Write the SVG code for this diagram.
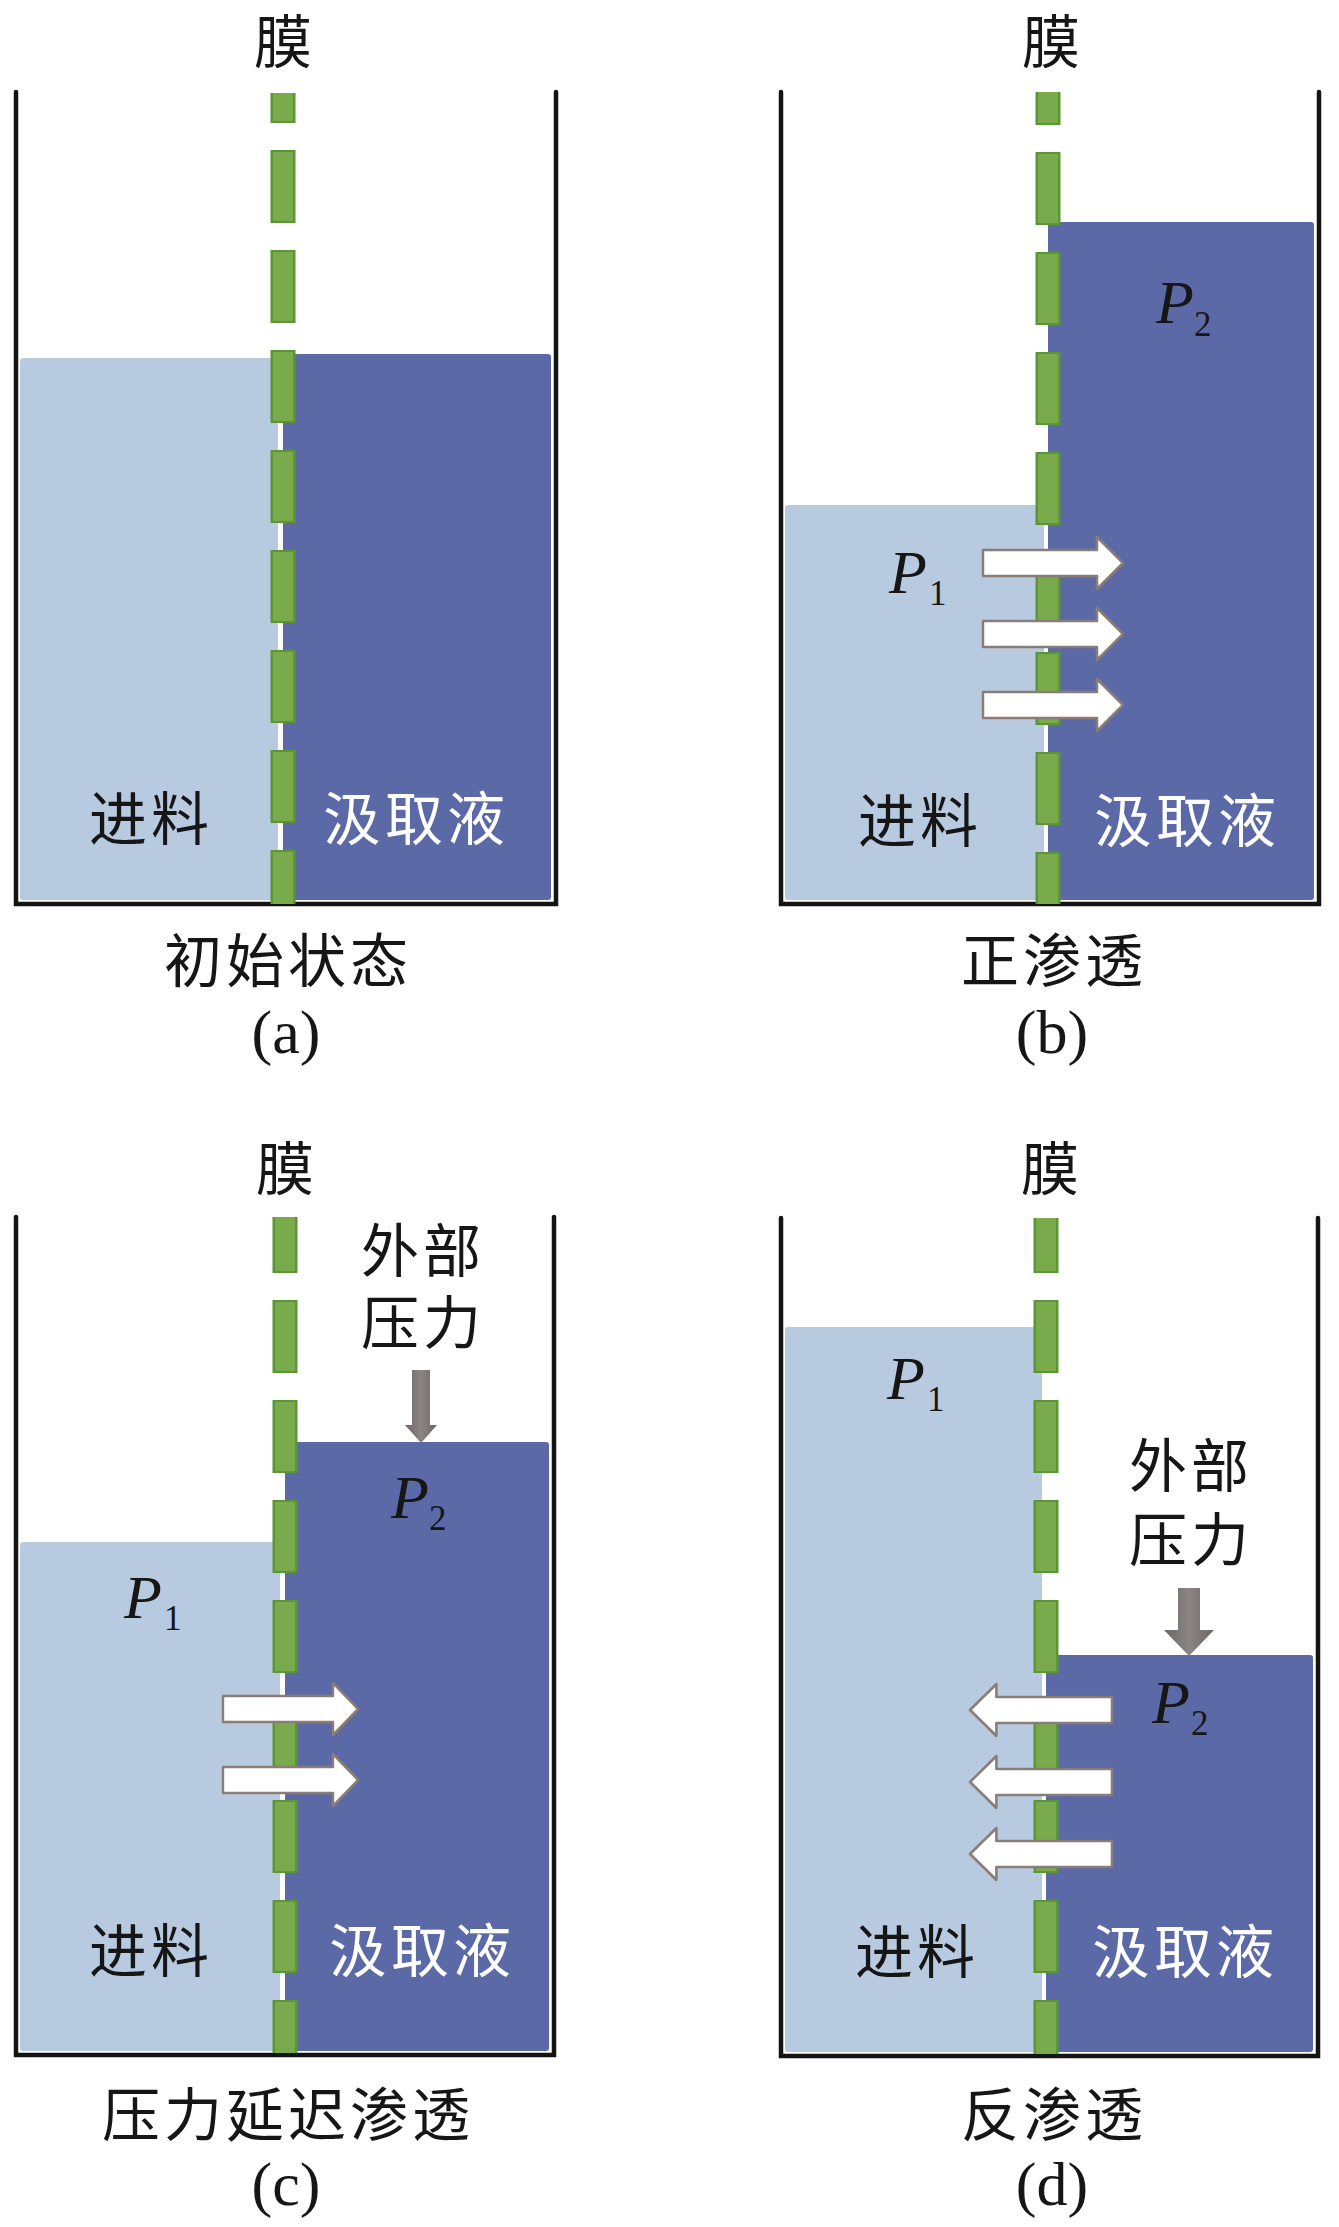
<svg xmlns="http://www.w3.org/2000/svg" xmlns:xlink="http://www.w3.org/1999/xlink" width="1339" height="2227" viewBox="0 0 1339 2227">
<style>
.wall{fill:none;stroke:#141414;stroke-width:4.5;stroke-linecap:round;stroke-linejoin:miter}
.feed{fill:#b8cadf}
.draw{fill:#5b6aa6}
.memo{stroke:#5a9636;stroke-width:25;fill:none;stroke-dasharray:73 27}
.memi{stroke:#79aa4b;stroke-width:20;fill:none;stroke-dasharray:69 31}
.cjk{font-family:"Noto Sans CJK SC",sans-serif;font-size:58px;fill:#161616;text-anchor:middle}
.sp{letter-spacing:4px}
.wt{fill:#ffffff}
.lbl{font-family:"Liberation Serif","Times New Roman",serif;font-size:62px;fill:#161616;text-anchor:middle}
.P{font-family:"Liberation Serif","Times New Roman",serif;font-size:62px;font-style:italic;fill:#161616}
.sub{font-family:"Liberation Serif","Times New Roman",serif;font-size:35px;fill:#161616}
.flow{fill:#ffffff;stroke:#8a7c76;stroke-width:2.5;stroke-linejoin:round}
.push{fill:url(#gray)}
</style>
<defs>
<linearGradient id="gray" x1="0" y1="0" x2="1" y2="0">
<stop offset="0" stop-color="#6c6665"/>
<stop offset="0.5" stop-color="#8b8584"/>
<stop offset="1" stop-color="#6c6665"/>
</linearGradient>
<path id="arrowR" d="M0,-13 H114 V-26 L140,0 L114,26 V13 H0 Z"/>
</defs>
<rect width="1339" height="2227" fill="#ffffff"/>

<g id="panel-a">
<rect class="feed" x="20" y="358" width="258" height="542" rx="3"/>
<rect class="draw" x="283" y="354" width="268" height="546" rx="3"/>
<path class="wall" d="M16,92 V904 H556 V92"/>
<line class="memo" x1="283" y1="93" x2="283" y2="904" stroke-dashoffset="43"/>
<line class="memi" x1="283" y1="93" x2="283" y2="904" stroke-dashoffset="41"/>
<text class="cjk" x="283" y="63">膜</text>
<text class="cjk sp" x="151" y="840">进料</text>
<text class="cjk sp wt" x="416" y="840">汲取液</text>
<text class="cjk sp" x="288" y="982">初始状态</text>
<text class="lbl" x="286" y="1053">(a)</text>
</g>

<g id="panel-b">
<rect class="feed" x="785" y="505" width="259" height="395" rx="3"/>
<rect class="draw" x="1048" y="222" width="266" height="678" rx="3"/>
<path class="wall" d="M781,92 V904 H1319 V92"/>
<line class="memo" x1="1048" y1="92" x2="1048" y2="904" stroke-dashoffset="40"/>
<line class="memi" x1="1048" y1="92" x2="1048" y2="904" stroke-dashoffset="38"/>
<text class="cjk" x="1051" y="63">膜</text>
<text class="cjk sp" x="920" y="842">进料</text>
<text class="cjk sp wt" x="1187" y="842">汲取液</text>
<text class="cjk sp" x="1054" y="982">正渗透</text>
<text class="lbl" x="1052" y="1053">(b)</text>
<text class="P wt" x="1156" y="323">P</text>
<text class="sub wt" x="1194" y="336">2</text>
<text class="P" x="889" y="593">P</text>
<text class="sub" x="929" y="605">1</text>
</g>

<g id="panel-c">
<rect class="feed" x="20" y="1542" width="260" height="509" rx="3"/>
<rect class="draw" x="285" y="1442" width="264" height="609" rx="3"/>
<path class="wall" d="M16,1217 V2055 H554 V1217"/>
<line class="memo" x1="285" y1="1217" x2="285" y2="2053" stroke-dashoffset="17"/>
<line class="memi" x1="285" y1="1217" x2="285" y2="2053" stroke-dashoffset="15"/>
<text class="cjk" x="285" y="1190">膜</text>
<text class="cjk sp"><tspan x="423" y="1272">外部</tspan><tspan x="423" y="1344">压力</tspan></text>
<text class="cjk sp" x="151" y="1972">进料</text>
<text class="cjk sp wt" x="422" y="1972">汲取液</text>
<text class="cjk sp" x="288" y="2136">压力延迟渗透</text>
<text class="lbl" x="286" y="2205">(c)</text>
<text class="P wt" x="391" y="1518">P</text>
<text class="sub wt" x="429" y="1530">2</text>
<text class="P" x="124" y="1618">P</text>
<text class="sub" x="164" y="1630">1</text>
</g>

<g id="panel-d">
<rect class="feed" x="785" y="1327" width="257" height="725" rx="3"/>
<rect class="draw" x="1046" y="1655" width="267" height="397" rx="3"/>
<path class="wall" d="M781,1218 V2056 H1318 V1218"/>
<line class="memo" x1="1046" y1="1218" x2="1046" y2="2054" stroke-dashoffset="18"/>
<line class="memi" x1="1046" y1="1218" x2="1046" y2="2054" stroke-dashoffset="16"/>
<text class="cjk" x="1050" y="1190">膜</text>
<text class="cjk sp"><tspan x="1191" y="1487">外部</tspan><tspan x="1191" y="1561">压力</tspan></text>
<text class="cjk sp" x="917" y="1973">进料</text>
<text class="cjk sp wt" x="1185" y="1973">汲取液</text>
<text class="cjk sp" x="1054" y="2136">反渗透</text>
<text class="lbl" x="1052" y="2205">(d)</text>
<text class="P wt" x="1152" y="1723">P</text>
<text class="sub wt" x="1191" y="1735">2</text>
<text class="P" x="887" y="1399">P</text>
<text class="sub" x="927" y="1411">1</text>
</g>

<g id="connectors">
<use href="#arrowR" class="flow" transform="translate(983,563)"/>
<use href="#arrowR" class="flow" transform="translate(983,634)"/>
<use href="#arrowR" class="flow" transform="translate(983,705)"/>
<use href="#arrowR" class="flow" transform="translate(223,1709) scale(0.965,1)"/>
<use href="#arrowR" class="flow" transform="translate(223,1780) scale(0.965,1)"/>
<use href="#arrowR" class="flow" transform="translate(1112,1710) scale(-1.014,1)"/>
<use href="#arrowR" class="flow" transform="translate(1112,1782) scale(-1.014,1)"/>
<use href="#arrowR" class="flow" transform="translate(1112,1854) scale(-1.014,1)"/>
<path class="push" d="M412,1370 H430 V1425 H437 L421,1443 L405,1425 H412 Z"/>
<path class="push" d="M1178,1588 H1200 V1630 H1214 L1189,1656 L1164,1630 H1178 Z"/>
</g>
</svg>
